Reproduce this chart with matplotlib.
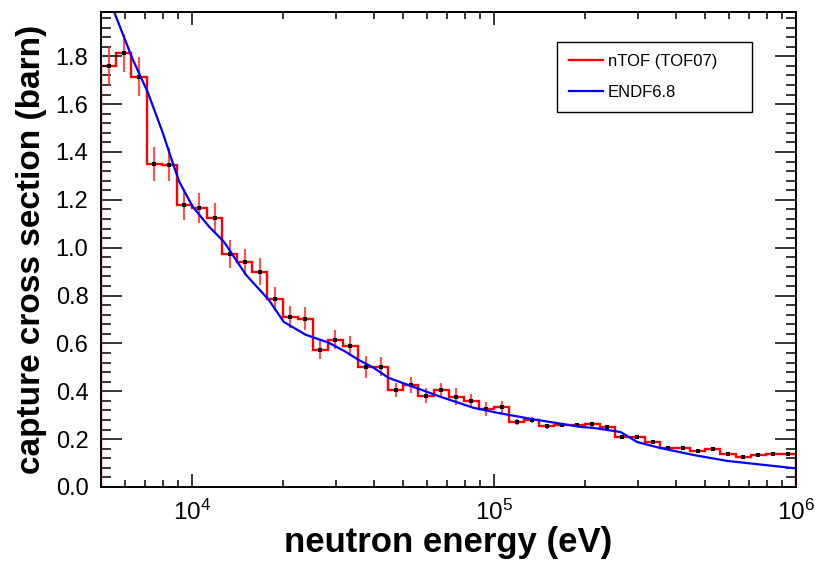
import numpy as np
import matplotlib
matplotlib.use("Agg")
import matplotlib.pyplot as plt
from matplotlib.ticker import MultipleLocator, LogLocator, NullFormatter, FormatStrFormatter

plt.rcParams['font.family'] = ['Liberation Sans', 'DejaVu Sans']
plt.rcParams['mathtext.default'] = 'regular'

# nTOF capture data, 20 bins per decade (log10 of bin edges)
log_edges = np.round(np.arange(3.70, 6.001, 0.05), 2)
ntof_xs = [1.76, 1.815, 1.715, 1.35, 1.347, 1.18, 1.167, 1.125, 0.975, 0.94,
           0.90, 0.787, 0.711, 0.703, 0.573, 0.615, 0.589, 0.501, 0.502, 0.405,
           0.425, 0.382, 0.406, 0.377, 0.361, 0.326, 0.333, 0.271, 0.279, 0.254,
           0.259, 0.259, 0.262, 0.252, 0.208, 0.208, 0.187, 0.165, 0.162, 0.151,
           0.158, 0.137, 0.126, 0.133, 0.138, 0.139]
ntof_err = [0.08, 0.08, 0.08, 0.07, 0.07, 0.065, 0.063, 0.063, 0.058, 0.055,
            0.055, 0.05, 0.047, 0.048, 0.04, 0.04, 0.043, 0.045, 0.04, 0.03,
            0.033, 0.03, 0.03, 0.035, 0.026, 0.028, 0.026, 0.012, 0.012, 0.01,
            0.01, 0.01, 0.01, 0.009, 0.009, 0.008, 0.008, 0.008, 0.008, 0.008,
            0.008, 0.008, 0.008, 0.008, 0.008, 0.008]

# ENDF6.8 evaluated curve
endf_e = [5000, 5521, 6368, 7145, 8004, 8630, 9080, 10050, 11400, 12760,
          13280, 15090, 17970, 20140, 23820, 28380, 32290, 35640, 39980, 44790,
          54180, 66560, 85550, 102700, 132100, 193300, 213300, 262000, 272100, 297900,
          355000, 456700, 591900, 689000, 977000, 1000000]
endf_xs = [2.12, 1.987, 1.787, 1.649, 1.481, 1.356, 1.276, 1.172, 1.088, 1.025,
           0.992, 0.887, 0.782, 0.690, 0.636, 0.603, 0.565, 0.531, 0.498, 0.456,
           0.418, 0.377, 0.331, 0.310, 0.285, 0.251, 0.247, 0.230, 0.218, 0.188,
           0.163, 0.134, 0.109, 0.100, 0.079, 0.078]

edges = 10 ** log_edges
centers = 10 ** ((log_edges[:-1] + log_edges[1:]) / 2)

fig = plt.figure(figsize=(8.17, 5.63), dpi=100)
ax = fig.add_axes([0.1236, 0.135, 0.8507, 0.8437])

ax.stairs(ntof_xs, edges, color='red', lw=1.7, label='nTOF (TOF07)')
ax.errorbar(centers, ntof_xs, yerr=ntof_err, fmt='none', ecolor='#ff3030',
            elinewidth=1.5, alpha=0.85, linestyle=(0, (3, 2)))
ax.plot(centers, ntof_xs, 's', color='black', ms=2.2, mew=0)
ax.plot(endf_e, endf_xs, color='blue', lw=1.6, label='ENDF6.8')

ax.set_xscale('log')
ax.set_xlim(5e3, 1e6)
ax.set_ylim(0, 1.985)

ax.yaxis.set_major_locator(MultipleLocator(0.2))
ax.yaxis.set_minor_locator(MultipleLocator(0.04))
ax.yaxis.set_major_formatter(FormatStrFormatter('%.1f'))
ax.xaxis.set_minor_locator(LogLocator(base=10, subs=np.arange(2, 10)))
ax.xaxis.set_minor_formatter(NullFormatter())

ax.tick_params(axis='both', which='both', direction='in', top=True, right=True, width=1.1)
ax.tick_params(axis='y', which='major', length=15, labelsize=17, pad=9)
ax.tick_params(axis='y', which='minor', length=7.5)
ax.tick_params(axis='x', which='major', length=9.5, labelsize=17.5, pad=9)
ax.tick_params(axis='x', which='minor', length=4.7)
for s in ax.spines.values():
    s.set_linewidth(1.4)

ax.set_xlabel('neutron energy (eV)', fontsize=25, fontweight='bold', labelpad=1)
ax.set_ylabel('capture cross section (barn)', fontsize=24, fontweight='bold')
ax.yaxis.set_label_coords(-0.078, 0.5)

leg = ax.legend(loc='upper left', bbox_to_anchor=(0.656, 0.787, 0.281, 0.15),
                mode='expand', borderaxespad=0, fontsize=12, fancybox=False,
                framealpha=1, edgecolor='black', handlelength=2.05,
                handletextpad=0.3, labelspacing=1.0, borderpad=0.7)
leg.get_frame().set_linewidth(1.0)

fig.savefig('out.png', dpi=100)
